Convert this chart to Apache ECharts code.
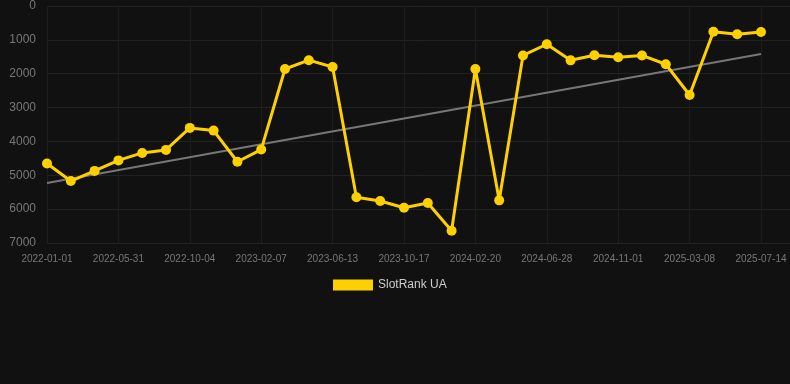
<!DOCTYPE html>
<html>
<head>
<meta charset="utf-8">
<script src="https://cdn.jsdelivr.net/npm/echarts@6/dist/echarts.min.js"></script>
<style>
html,body{margin:0;padding:0;background:#111111;}
#c{width:790px;height:384px;}
</style>
</head>
<body>
<div id="c"></div>
<script>
const categories = ['2022-01-01','2022-02-20','2022-04-11','2022-05-31','2022-07-12','2022-08-23','2022-10-04','2022-11-15','2022-12-27','2023-02-07','2023-03-21','2023-05-02','2023-06-13','2023-07-25','2023-09-05','2023-10-17','2023-11-28','2024-01-09','2024-02-20','2024-04-02','2024-05-15','2024-06-28','2024-08-09','2024-09-20','2024-11-01','2024-12-13','2025-01-24','2025-03-08','2025-04-20','2025-06-01','2025-07-14'];
const rankValues = [4650,5170,4870,4560,4340,4250,3600,3680,4600,4240,1860,1600,1800,5650,5760,5960,5820,6640,1860,5740,1460,1130,1605,1457,1516,1460,1720,2628,758,836,768];
const trendStart = 5230;
const trendEnd = 1420;
const yTicks = [0,1000,2000,3000,4000,5000,6000,7000];
const seriesName = 'SlotRank UA';

const chart = echarts.init(document.getElementById('c'));
chart.setOption({
  backgroundColor: '#111111',
  animation: false,
  legend: {
    data: [seriesName],
    top: 279,
    left: 333,
    padding: 0,
    icon: 'rect',
    itemWidth: 40,
    itemHeight: 11,
    itemGap: 10,
    textStyle: { color: '#cccccc', fontSize: 12, fontFamily: 'Arial, Liberation Sans, sans-serif' }
  },
  grid: [
    { left: 47, right: 29, top: 6, bottom: 141, containLabel: false },
    { left: 47, right: 0, top: 6, bottom: 141, containLabel: false }
  ],
  xAxis: [
    {
      type: 'category', gridIndex: 0, data: categories, boundaryGap: false,
      axisLine: { show: false }, axisTick: { show: false },
      axisLabel: { interval: 2, color: '#777777', fontSize: 10, margin: 11, fontFamily: 'Arial, Liberation Sans, sans-serif' },
      splitLine: { show: true, interval: 2, lineStyle: { color: '#1e1e1e', width: 1 } }
    },
    { type: 'value', gridIndex: 1, show: false, min: 0, max: 1 }
  ],
  yAxis: [
    {
      type: 'value', gridIndex: 0, inverse: true, min: 0, max: 7000, interval: 1000,
      axisLine: { show: false }, axisTick: { show: false },
      axisLabel: { color: '#777777', fontSize: 12, margin: 11, fontFamily: 'Arial, Liberation Sans, sans-serif',
        formatter: v => yTicks.includes(v) ? String(v) : '' },
      splitLine: { show: false }
    },
    {
      type: 'value', gridIndex: 1, inverse: true, min: 0, max: 7000, interval: 1000,
      axisLine: { show: false }, axisTick: { show: false }, axisLabel: { show: false },
      splitLine: { show: true, lineStyle: { color: '#222222', width: 1 } }
    }
  ],
  series: [
    {
      name: 'trend', type: 'line', xAxisIndex: 0, yAxisIndex: 0,
      data: [[categories[0], trendStart], [categories[categories.length - 1], trendEnd]],
      symbol: 'none', lineStyle: { color: '#777777', width: 2 }, silent: true, z: 2
    },
    {
      name: seriesName, type: 'line', xAxisIndex: 0, yAxisIndex: 0,
      data: rankValues,
      symbol: 'circle', symbolSize: 10,
      itemStyle: { color: '#FFD000' },
      lineStyle: { color: '#FFD000', width: 3 }, z: 3
    }
  ]
});
</script>
</body>
</html>
